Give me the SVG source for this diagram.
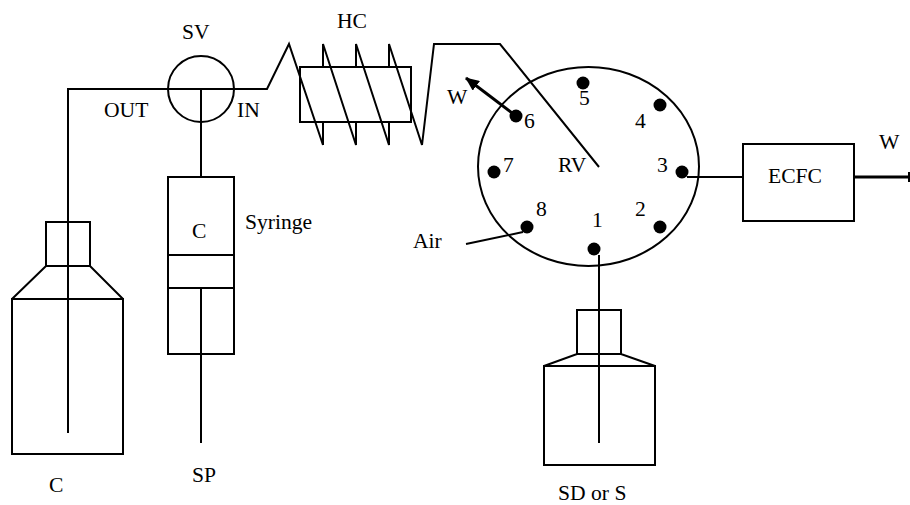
<svg xmlns="http://www.w3.org/2000/svg" width="910" height="505" viewBox="0 0 910 505">
<style>
.l{fill:none;stroke:#000;stroke-width:2}
.t{font-family:"Liberation Serif","Times New Roman",serif;font-size:21.6px;fill:#000}
.d{fill:#000}
</style>
<defs><marker id="a" markerUnits="userSpaceOnUse" markerWidth="14" markerHeight="12" refX="13" refY="6" orient="auto"><path d="M0 0L14 6L0 12Z" fill="#000"/></marker></defs>
<rect width="910" height="505" fill="#fff"/>
<g id="connectors">
<path class="l" d="M68 433V89H267L289 44L323 145M323 145V122M323 67V44L356 145V122M356 67V44L389 145V122M389 67V44L422 145L434 44H500L599 167"/>
<path class="l" d="M201 89V177M201 288V443"/>
<path class="l" d="M599 255V443M687 177H743"/>
<path class="l" d="M466 244L523 232"/>
<path class="l" style="stroke-width:3" d="M516 116L466 78" marker-end="url(#a)"/>
<path class="l" style="stroke-width:3" d="M854 177H908"/>
<path class="l" d="M909 172V182"/>
</g>
<g id="SV"><circle class="l" cx="201" cy="89" r="33"/><text class="t" x="182" y="39">SV</text></g>
<g id="HC"><rect class="l" x="300" y="67" width="111" height="55"/><text class="t" x="337" y="28">HC</text></g>
<g id="RV"><ellipse class="l" cx="588.5" cy="166.5" rx="110.5" ry="99.5"/>
<text class="t" x="558" y="172">RV</text>
<circle class="d" cx="594" cy="249" r="6.5"/><text class="t" x="592" y="227">1</text>
<circle class="d" cx="660" cy="227" r="6.5"/><text class="t" x="635" y="216">2</text>
<circle class="d" cx="682" cy="172" r="6.5"/><text class="t" x="657" y="172">3</text>
<circle class="d" cx="660" cy="105" r="6.5"/><text class="t" x="635" y="128">4</text>
<circle class="d" cx="583" cy="83" r="6.5"/><text class="t" x="579" y="105">5</text>
<circle class="d" cx="516" cy="116" r="6.5"/><text class="t" x="524" y="128">6</text>
<circle class="d" cx="494" cy="172" r="6.5"/><text class="t" x="503" y="172">7</text>
<circle class="d" cx="527" cy="227" r="6.5"/><text class="t" x="536" y="216">8</text>
</g>
<g id="ECFC"><rect class="l" x="743" y="144" width="111" height="77"/><text class="t" x="768" y="183">ECFC</text></g>
<g id="bottleC"><path class="l" d="M12 299H123V454H12ZM12 299L46 266H90L123 299M46 266V222H90V266"/><text class="t" x="49" y="492">C</text></g>
<g id="syringe"><rect class="l" x="168" y="177" width="66" height="177"/><rect class="l" x="168" y="255" width="66" height="33"/><text class="t" x="192" y="238">C</text><text class="t" x="245" y="229">Syringe</text></g>
<g id="bottleS"><path class="l" d="M544 366H655V465H544ZM544 366L577 354H621L655 366M577 354V310H621V354"/><text class="t" x="558" y="500">SD or S</text></g>
<g id="labels">
<text class="t" x="104" y="117">OUT</text>
<text class="t" x="237" y="117">IN</text>
<text class="t" x="447" y="104">W</text>
<text class="t" x="413" y="248">Air</text>
<text class="t" x="879" y="149">W</text>
<text class="t" x="192" y="482">SP</text>
</g>
</svg>
